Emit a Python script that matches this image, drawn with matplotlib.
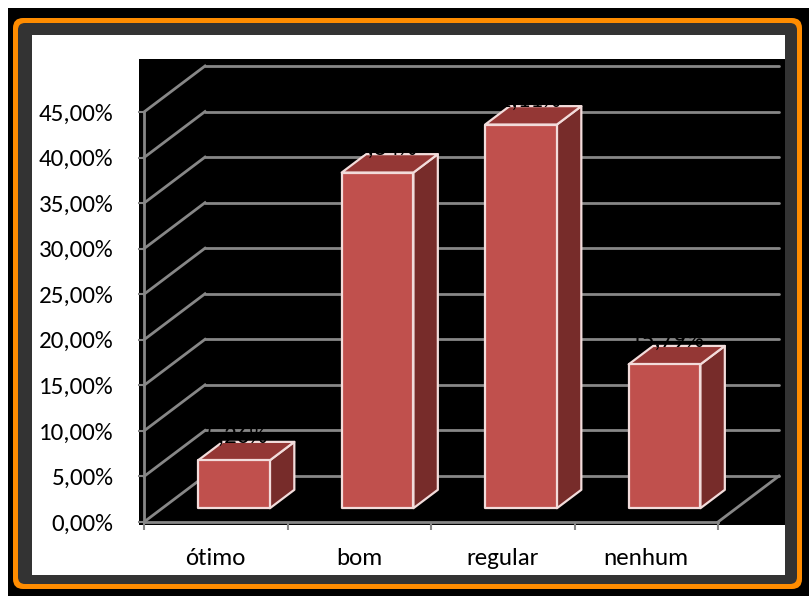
import matplotlib
matplotlib.use("Agg")
import matplotlib.pyplot as plt
from matplotlib.patches import FancyBboxPatch, Rectangle, Polygon
from matplotlib.ticker import FixedLocator, FixedFormatter

plt.rcParams['font.family'] = ['Carlito', 'DejaVu Sans']

# ---- data ----
categories = ["ótimo", "bom", "regular", "nenhum"]
values = [5.26, 36.84, 42.11, 15.79]
value_labels = ["5,26%", "36,84%", "42,11%", "15,79%"]
yticks = [0, 5, 10, 15, 20, 25, 30, 35, 40, 45]
ytick_labels = ["0,00%", "5,00%", "10,00%", "15,00%", "20,00%", "25,00%",
                "30,00%", "35,00%", "40,00%", "45,00%"]

# ---- layout (pixels) ----
W, H = 809, 596
fig = plt.figure(figsize=(W / 100, H / 100), dpi=100)
fig.patch.set_facecolor("white")

bg = fig.add_axes([0, 0, 1, 1])
bg.set_xlim(0, W)
bg.set_ylim(H, 0)
bg.axis("off")
bg.add_patch(Rectangle((8, 8), W - 8, H - 8, facecolor="black", edgecolor="none"))
bg.add_patch(FancyBboxPatch((13 + 10, 18 + 10), 789 - 20, 571 - 20,
                            boxstyle="round,pad=10", facecolor="#FF8C00", edgecolor="none"))
bg.add_patch(FancyBboxPatch((18 + 7, 23 + 7), 779 - 14, 561 - 14,
                            boxstyle="round,pad=7", facecolor="#333333", edgecolor="none"))
bg.add_patch(Rectangle((32, 35), 785 - 32, 575 - 35, facecolor="white", edgecolor="none"))
# black plot background
bg.add_patch(Rectangle((139, 59), 785 - 139, 525 - 59, facecolor="black", edgecolor="none"))

# main axes: x=0 at px 144, 0% at px 522
x0_px, y0_px = 144, 522
cat_px = 143.5
pct_px = 9.111
right_px, top_px = 785, 59
ax = fig.add_axes([x0_px / W, (H - y0_px) / H, (right_px - x0_px) / W, (y0_px - top_px) / H])
ax.set_facecolor("none")
ax.set_xlim(0, (right_px - x0_px) / cat_px)
ax.set_ylim(0, (y0_px - top_px) / pct_px)
for s in ax.spines.values():
    s.set_visible(False)

ncat = len(categories)
DX = 61 / cat_px     # depth offset in category units
DY = 46 / pct_px     # depth offset in percent units

def P(x, y, z):
    return (x + z * DX, y + z * DY)

grid_c = "#878787"
glw = 2.0
# back wall and side wall gridlines
for v in yticks:
    ax.plot([DX, ncat + DX], [v + DY, v + DY], color=grid_c, lw=glw, zorder=1,
            solid_capstyle="round", clip_on=False)
    ax.plot([0, DX], [v, v + DY], color=grid_c, lw=glw, zorder=1, clip_on=False)
# floor
ax.plot([0, ncat], [0, 0], color=grid_c, lw=glw, zorder=1, clip_on=False)
ax.plot([ncat, ncat + DX], [0, DY], color=grid_c, lw=glw, zorder=1, clip_on=False)
# front vertical axis
ax.plot([0, 0], [0, yticks[-1]], color=grid_c, lw=glw, zorder=1, clip_on=False)

# bars
w = 0.25
z0, z1 = 0.3, 0.7
front_c, top_c, side_c, edge_c = "#C0504D", "#943735", "#772C2A", "#F2DCDB"
for i, v in enumerate(values):
    c = i + 0.5
    front = [P(c - w, 0, z0), P(c + w, 0, z0), P(c + w, v, z0), P(c - w, v, z0)]
    top = [P(c - w, v, z0), P(c + w, v, z0), P(c + w, v, z1), P(c - w, v, z1)]
    side = [P(c + w, 0, z0), P(c + w, 0, z1), P(c + w, v, z1), P(c + w, v, z0)]
    for poly, col in ((side, side_c), (top, top_c), (front, front_c)):
        ax.add_patch(Polygon(poly, closed=True, facecolor=col, edgecolor=edge_c,
                             lw=1.6, joinstyle="round", zorder=3))
    lx, ly = c + z0 * DX, v + z1 * DY
    ax.annotate(value_labels[i], (lx, ly), xytext=(3, 6), textcoords="offset pixels",
                ha="center", va="center", fontsize=18, color="black", zorder=5)

# ticks
ax.yaxis.set_major_locator(FixedLocator(yticks))
ax.yaxis.set_major_formatter(FixedFormatter(ytick_labels))
ax.tick_params(axis="y", which="major", length=4, width=1.5, color=grid_c,
               direction="out", pad=18, labelsize=18, labelcolor="black")
ax.xaxis.set_major_locator(FixedLocator(list(range(ncat + 1))))
ax.xaxis.set_major_formatter(FixedFormatter([""] * (ncat + 1)))
ax.xaxis.set_minor_locator(FixedLocator([i + 0.5 for i in range(ncat)]))
ax.xaxis.set_minor_formatter(FixedFormatter(categories))
ax.tick_params(axis="x", which="major", length=6, width=1.5, color=grid_c, direction="out")
ax.tick_params(axis="x", which="minor", length=0, pad=19, labelsize=18, labelcolor="black")

fig.savefig("out.png", dpi=100, facecolor="white")
